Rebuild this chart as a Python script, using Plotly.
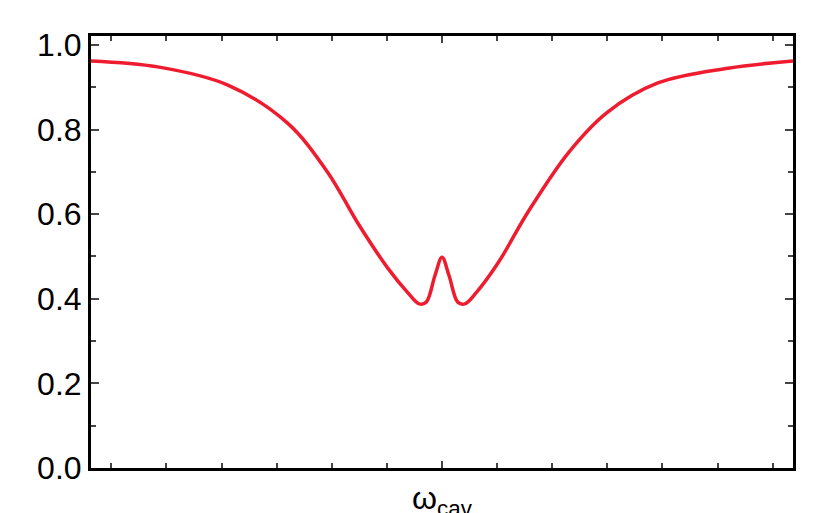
import plotly.graph_objects as go

# detuning (units of half-span, centre = omega_cav) and transmission
x_vals = [-1.0, -0.81, -0.61, -0.44, -0.325, -0.24, -0.155, -0.097, -0.065, -0.045,
          -0.02, 0.0, 0.02, 0.045, 0.065, 0.097, 0.16, 0.245, 0.36, 0.47, 0.615, 0.815, 1.0]
y_vals = [0.962, 0.948, 0.905, 0.815, 0.698, 0.579, 0.473, 0.414, 0.388, 0.392,
          0.455, 0.498, 0.455, 0.392, 0.388, 0.414, 0.485, 0.605, 0.745, 0.84, 0.91, 0.945, 0.962]
y_ticks = [0.0, 0.2, 0.4, 0.6, 0.8, 1.0]

fig = go.Figure()
fig.add_trace(go.Scatter(x=x_vals, y=y_vals, mode='lines',
                         line=dict(color='#ee1c2e', width=3.5, shape='spline', smoothing=1.0)))

fig.update_layout(
    width=826, height=513, plot_bgcolor='white', paper_bgcolor='white',
    margin=dict(l=83, r=41, t=28, b=53, autoexpand=False), showlegend=False,
    font=dict(family='Liberation Sans, Arial', color='black'),
)
fig.update_xaxes(range=[-1, 1], showgrid=False, zeroline=False, showline=True, linecolor='black',
                 linewidth=3, mirror='ticks', ticks='inside', ticklen=7, tickwidth=1.5,
                 automargin=False,
                 tickvals=[0], ticktext=['ω<sub>cav</sub>'], tickfont=dict(size=32),
                 minor=dict(ticks='inside', ticklen=5, dtick=0.157, tick0=0, tickwidth=1.5))
fig.update_yaxes(range=[0, 1.021], showgrid=False, zeroline=False, showline=True, linecolor='black',
                 linewidth=3, mirror='ticks', ticks='inside', ticklen=8, tickwidth=1.5,
                 automargin=False,
                 tickvals=y_ticks, ticktext=[f'{v:.1f}' for v in y_ticks], tickfont=dict(size=32),
                 minor=dict(ticks='inside', ticklen=5, dtick=0.1, tickwidth=1.5))

fig.write_html("out.html")
